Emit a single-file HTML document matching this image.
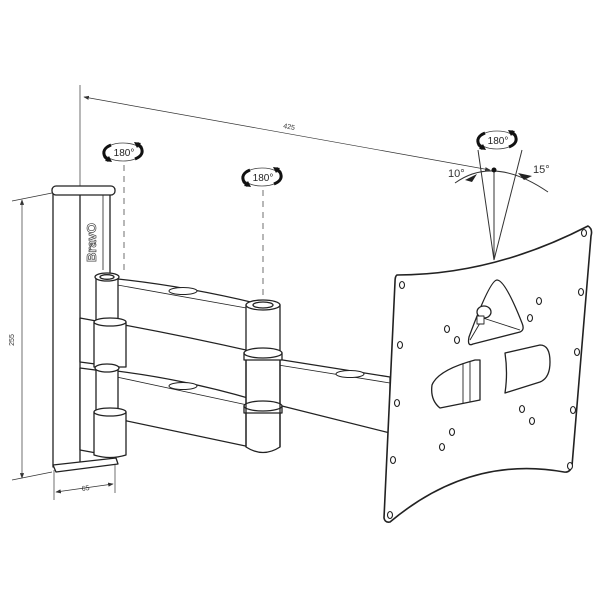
<!DOCTYPE html>
<html><head><style>body{margin:0;background:#fff}svg{display:block}</style></head>
<body>
<svg width="600" height="600" viewBox="0 0 600 600" xmlns="http://www.w3.org/2000/svg" font-family="Liberation Sans, sans-serif">
<defs>
<marker id="ar" markerWidth="8" markerHeight="6" refX="7" refY="3" orient="auto"><path d="M0,0 L8,3 L0,6 z" fill="#333"/></marker>
<marker id="al" markerWidth="8" markerHeight="6" refX="1" refY="3" orient="auto"><path d="M8,0 L0,3 L8,6 z" fill="#333"/></marker>
<g id="rot">
<ellipse cx="0" cy="0" rx="19" ry="9" fill="none" stroke="#444" stroke-width="0.8"/>
<path d="M-12,-7 Q-22,-3 -18,5 L-14,9" fill="none" stroke="#111" stroke-width="3"/>
<path d="M-18,9 L-11,10 L-14,4 z" fill="#111"/>
<path d="M12,7 Q22,3 18,-5 L14,-9" fill="none" stroke="#111" stroke-width="3"/>
<path d="M18,-9 L11,-10 L14,-4 z" fill="#111"/>
<text x="1" y="4" font-size="10" text-anchor="middle" fill="#222">180°</text>
</g>
</defs>
<g stroke="#333" fill="none" stroke-width="0.7">
<line x1="80" y1="85" x2="80" y2="305"/>
<line x1="84" y1="97" x2="490" y2="170" marker-start="url(#al)" marker-end="url(#ar)"/>
<line x1="12" y1="201" x2="52" y2="193"/>
<line x1="12" y1="480" x2="52" y2="472"/>
<line x1="22" y1="200" x2="22" y2="478" marker-start="url(#al)" marker-end="url(#ar)"/>
<line x1="54" y1="470" x2="54" y2="500"/>
<line x1="115" y1="458" x2="115" y2="493"/>
<line x1="56" y1="492" x2="113" y2="484" marker-start="url(#al)" marker-end="url(#ar)"/>
<line x1="124" y1="165" x2="124" y2="272" stroke-dasharray="6,5"/>
<line x1="263" y1="190" x2="263" y2="302" stroke-dasharray="6,5"/>
<line x1="478" y1="150" x2="494" y2="260" stroke-width="1"/>
<line x1="522" y1="150" x2="494" y2="260" stroke-width="1"/>
<line x1="494" y1="170" x2="494" y2="260" stroke-width="1"/>
<path d="M455,183 Q494,155 548,192" stroke-width="1"/>
</g>
<circle cx="494" cy="170" r="2.5" fill="#111"/>
<path d="M465,180 L477,174 L472,182z M532,176 L518,173 L524,180z" fill="#222"/>
<text x="283" y="128" font-size="7" fill="#333" transform="rotate(10 283 128)">425</text>
<text x="14" y="340" font-size="7" fill="#333" transform="rotate(-90 14 340)" text-anchor="middle">255</text>
<text x="82" y="491" font-size="7" fill="#333" transform="rotate(-8 82 491)">65</text>
<text x="448" y="177" font-size="11" fill="#333">10°</text>
<text x="533" y="173" font-size="11" fill="#333">15°</text>
<use href="#rot" x="123" y="152"/>
<use href="#rot" x="262" y="177"/>
<use href="#rot" x="497" y="140"/>

<g stroke="#222" stroke-width="1.3" fill="#fff" stroke-linejoin="round">
<path d="M53,192 L53,467 L110,463 L110,194 Z"/>
<line x1="80" y1="194" x2="80" y2="464"/>
<line x1="103" y1="194" x2="103" y2="270" stroke-width="0.8"/>
<rect x="52" y="186" width="63" height="9" rx="4"/>
<path d="M53,465 L116,458 L118,464 L56,472 Z"/>
<path d="M270,358 L390,377 L390,433 L270,403 Z"/>
<line x1="272" y1="364" x2="390" y2="383" stroke-width="0.8"/>
<ellipse cx="350" cy="374" rx="14" ry="3.5" stroke-width="1"/>
<path d="M80,318 L118,325 L118,367 L80,362 Z"/>
<path d="M80,368 L118,373 L118,457 L80,450 Z"/>
<path d="M108,278 Q180,285 255,303 L255,352 Q180,335 108,322 Z"/>
<line x1="112" y1="284" x2="252" y2="309" stroke-width="0.8"/>
<ellipse cx="183" cy="291" rx="14" ry="3.5" stroke-width="1"/>
<path d="M108,370 Q180,378 255,400 L255,448 Q180,432 108,417 Z"/>
<line x1="112" y1="376" x2="252" y2="406" stroke-width="0.8"/>
<ellipse cx="183" cy="386" rx="14" ry="3.5" stroke-width="1"/>
<path d="M96,277 L118,277 L118,325 L96,325 Z"/>
<ellipse cx="107" cy="277" rx="12" ry="4"/>
<ellipse cx="107" cy="277" rx="7" ry="2.3"/>
<path d="M94,322 L126,322 L126,367 L94,367 Z"/>
<ellipse cx="110" cy="322" rx="16" ry="4"/>
<path d="M96,368 L118,368 L118,412 L96,412 Z"/>
<ellipse cx="107" cy="368" rx="12" ry="4"/>
<path d="M94,412 L126,412 L126,455 Q110,460 94,455 Z"/>
<ellipse cx="110" cy="412" rx="16" ry="4"/>
<path d="M246,305 L280,305 L280,447 Q263,458 246,447 Z"/>
<ellipse cx="263" cy="305" rx="17" ry="5"/>
<ellipse cx="263" cy="305" rx="10" ry="3"/>
<path d="M244,353 L282,353 L282,360 L244,360 Z"/>
<ellipse cx="263" cy="353" rx="19" ry="5"/>
<path d="M244,406 L282,406 L282,413 L244,413 Z"/>
<ellipse cx="263" cy="406" rx="19" ry="5"/>
<line x1="246" y1="360" x2="246" y2="447"/><line x1="280" y1="360" x2="280" y2="447"/>
<path d="M397,275 Q493,275 588,226 Q593,229 591,236 L572,466 Q570,473 564,472 Q470,455 390,522 Q385,523 384,518 L395,282 Q395,276 397,275 Z" stroke-width="1.6"/>
<path d="M497,280 Q490,280 469,337 Q467,347 473,344 L520,332 Q525,330 522,323 Q505,280 497,280 Z"/>
<path d="M470,340 L483,318 L520,330" stroke-width="0.9" fill="none"/>
<ellipse cx="484" cy="312" rx="7" ry="6"/>
<rect x="477" y="316" width="7" height="8" stroke-width="0.9"/>
<path d="M480,360 L480,400 L440,408 Q430,400 432,385 Q438,370 475,360 Z"/>
<line x1="463" y1="363" x2="463" y2="403" stroke-width="0.9"/>
<line x1="470" y1="362" x2="470" y2="402" stroke-width="0.9"/>
<path d="M505,353 L540,345 Q550,345 550,362 Q550,378 540,382 L505,393 Q508,373 505,353 Z"/>
</g>
<g stroke="#222" stroke-width="1.1" fill="#fff">
<ellipse cx="402" cy="285" rx="2.5" ry="3.5"/><ellipse cx="584" cy="233" rx="2.5" ry="3.5"/>
<ellipse cx="570" cy="466" rx="2.5" ry="3.5"/><ellipse cx="390" cy="515" rx="2.5" ry="3.5"/>
<ellipse cx="400" cy="345" rx="2.5" ry="3.5"/><ellipse cx="397" cy="403" rx="2.5" ry="3.5"/>
<ellipse cx="393" cy="460" rx="2.5" ry="3.5"/><ellipse cx="581" cy="292" rx="2.5" ry="3.5"/>
<ellipse cx="577" cy="352" rx="2.5" ry="3.5"/><ellipse cx="573" cy="410" rx="2.5" ry="3.5"/>
<ellipse cx="447" cy="329" rx="2.5" ry="3.5"/><ellipse cx="457" cy="340" rx="2.5" ry="3.5"/>
<ellipse cx="539" cy="301" rx="2.5" ry="3.5"/><ellipse cx="530" cy="318" rx="2.5" ry="3.5"/>
<ellipse cx="522" cy="409" rx="2.5" ry="3.5"/><ellipse cx="532" cy="421" rx="2.5" ry="3.5"/>
<ellipse cx="452" cy="432" rx="2.5" ry="3.5"/><ellipse cx="442" cy="447" rx="2.5" ry="3.5"/>
</g>
<text x="0" y="0" font-size="13" font-weight="bold" fill="#fff" stroke="#444" stroke-width="0.7" transform="translate(96,262) rotate(-90)">BravO</text>
</svg>
</body></html>
